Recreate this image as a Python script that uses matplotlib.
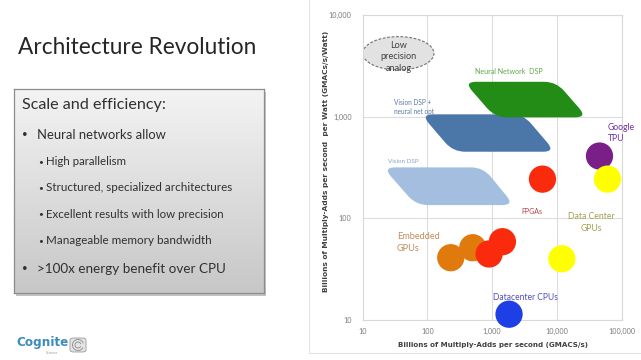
import numpy as np
import matplotlib
matplotlib.use("Agg")
import matplotlib.pyplot as plt
from matplotlib.path import Path
from matplotlib.patches import PathPatch, Ellipse, Rectangle, FancyBboxPatch, Arc

# ---------------- data ----------------
x_ticks = [10, 100, 1000, 10000, 100000]
x_tick_labels = ['10', '100', '1,000', '10,000', '100,000']
y_ticks = [10, 100, 1000, 10000]
y_tick_labels = ['10', '100', '1,000', '10,000']

cpu_x = [1820]; cpu_y = [11.4]
emb_gpu_x = [229, 501]; emb_gpu_y = [41, 51.4]
fpga_x = [895, 1438, 5970]; fpga_y = [44.6, 58.9, 243]
tpu_x = [45400]; tpu_y = [410]
dc_gpu_x = [11900, 60300]; dc_gpu_y = [40, 243]

# region shapes: corners TL, TR, BR, BL
nn_dsp_x = [368, 9720, 29300, 1109]; nn_dsp_y = [2203, 2203, 985, 985]
vis_nn_x = [79.6, 3006, 9380, 249]; vis_nn_y = [1054, 1054, 452, 452]
vis_x = [20.6, 723, 2180, 66.7]; vis_y = [317, 317, 135, 135]

title = "Architecture Revolution"
box_heading = "Scale and efficiency:"
bullets_lvl1 = ["Neural networks allow", ">100x energy benefit over CPU"]
bullets_lvl2 = ["High parallelism", "Structured, specialized architectures",
                "Excellent results with low precision", "Manageable memory bandwidth"]

W, H = 641, 360
plt.rcParams['font.family'] = ['Lato', 'DejaVu Sans']
fig = plt.figure(figsize=(W / 100, H / 100), dpi=100)
fig.patch.set_facecolor('white')
renderer = fig.canvas.get_renderer()
BOLD = ['DejaVu Sans']


def fpos(x, y):
    return x / W, 1 - y / H


def fit(t, target):
    bb = t.get_window_extent(renderer)
    w = max(bb.width, bb.height) if t.get_rotation() else bb.width
    t.set_fontsize(t.get_fontsize() * target / w)


# ---------------- chart panel ----------------
fig.patches.append(Rectangle(fpos(309, 353), (650 - 309) / W, (353 + 5) / H,
                             transform=fig.transFigure, facecolor='white',
                             edgecolor='#e4e4e4', lw=0.8, zorder=-5))

ax = fig.add_axes([362.7 / W, 1 - 320 / H, (621.7 - 362.7) / W, (320 - 15) / H])
ax.set_xscale('log'); ax.set_yscale('log')
ax.set_xlim(10, 100000); ax.set_ylim(10, 10000)
ax.set_xticks(x_ticks); ax.set_xticklabels(x_tick_labels)
ax.set_yticks(y_ticks); ax.set_yticklabels(y_tick_labels)
ax.minorticks_off()
ax.tick_params(length=0, labelsize=5.2, labelcolor='#7a7a7a')
ax.tick_params(axis='y', pad=8)
ax.tick_params(axis='x', pad=6)
for s in ax.spines.values():
    s.set_color('#d9d9d9'); s.set_linewidth(0.8)
ax.grid(True, color='#dcdcdc', lw=0.8)
ax.set_axisbelow(True)


def rounded_shape(xs, ys, r, color):
    pts = ax.transData.transform(np.column_stack([xs, ys]))
    n = len(pts)
    verts, codes = [], []
    for i in range(n):
        p0, p1, p2 = pts[i - 1], pts[i], pts[(i + 1) % n]
        d1 = (p0 - p1) / np.hypot(*(p0 - p1))
        d2 = (p2 - p1) / np.hypot(*(p2 - p1))
        a, b = p1 + d1 * r, p1 + d2 * r
        verts.append(a); codes.append(Path.MOVETO if i == 0 else Path.LINETO)
        verts += [p1, b]; codes += [Path.CURVE3, Path.CURVE3]
    verts.append(verts[0]); codes.append(Path.CLOSEPOLY)
    verts = ax.transAxes.inverted().transform(np.array(verts))
    ax.add_patch(PathPatch(Path(verts, codes), transform=ax.transAxes,
                           facecolor=color, edgecolor='none', zorder=2))


rounded_shape(vis_x, vis_y, 12, '#a3bedf')
rounded_shape(vis_nn_x, vis_nn_y, 12, '#4a76a8')
rounded_shape(nn_dsp_x, nn_dsp_y, 12, '#238c16')

S = 385
kw = dict(s=S, edgecolors='none', zorder=3, clip_on=False)
ax.scatter(cpu_x, cpu_y, c='#1f3fe6', **kw)
ax.scatter(emb_gpu_x, emb_gpu_y, c='#e07a0c', **kw)
ax.scatter(fpga_x, fpga_y, c='#fa2a0c', **kw)
ax.scatter(tpu_x, tpu_y, c='#7a1f88', **kw)
ax.scatter(dc_gpu_x, dc_gpu_y, c='#ffff00', **kw)

# low precision analog ellipse
ax.add_patch(Ellipse((0.1375, 0.8745), 0.2753, 0.1092, transform=ax.transAxes,
                     facecolor='#e2e2e2', edgecolor='#707070', lw=0.8,
                     ls=(0, (2.5, 1.5)), zorder=2))

labels = [
    ("Neural Network  DSP", 1824, 2762, 'center', '#62a84c', 68),
    ("Vision DSP +\nneural net opt", 30.8, 1253, 'left', '#5a7aa2', 40.7),
    ("Vision DSP", 24.3, 360, 'left', '#86a4cc', 30.6),
    ("Google\nTPU", 61200, 693, 'left', '#7030a0', 27.3),
    ("FPGAs", 4170, 118, 'center', '#b8404a', 21),
    ("Data Center\nGPUs", 33800, 91, 'center', '#a0a050', 46.7),
    ("Embedded\nGPUs", 33.5, 57.8, 'left', '#c48a58', 43.3),
    ("Datacenter CPUs", 3250, 16.7, 'center', '#5050c0', 65),
    ("Low\nprecision\nanalog", 35.5, 3880, 'center', '#404040', 36.7),
]
for txt, x, y, ha, col, w in labels:
    t = ax.text(x, y, txt, ha=ha, va='center', color=col, fontsize=6,
                linespacing=1.35, zorder=4, multialignment=ha)
    fit(t, w)

tx = fig.text(*fpos(492.5, 345.5), "Billions of Multiply-Adds per second (GMACS/s)",
              ha='center', va='center', fontsize=6, fontweight='bold', color='#404040',
              family=BOLD)
fit(tx, 192)
ty = fig.text(*fpos(326, 161.5), "Billions of Multiply-Adds per second  per Watt (GMACs/s/Watt)",
              ha='center', va='center', rotation=90, fontsize=6, fontweight='bold',
              color='#404040', family=BOLD)
fit(ty, 263)

# ---------------- left side ----------------
t = fig.text(*fpos(18.3, 47), title, ha='left', va='center', fontsize=16, color='#262626')
fit(t, 238.4)

# box shadow + gradient box
bx0, by0, bx1, by1 = 14, 89, 264, 293
fig.patches.append(Rectangle(fpos(bx0 + 2, by1 + 2.5), (bx1 - bx0) / W, (by1 - by0) / H,
                             transform=fig.transFigure, facecolor='#9a9a9a',
                             edgecolor='none', alpha=0.6, zorder=-4))
axb = fig.add_axes([bx0 / W, 1 - by1 / H, (bx1 - bx0) / W, (by1 - by0) / H])
grad = np.linspace(0, 1, 256)[:, None]
c_top = np.array([0.955, 0.955, 0.955]); c_bot = np.array([0.78, 0.78, 0.78])
img = c_top[None, None, :] * (1 - grad[:, :, None]) + c_bot[None, None, :] * grad[:, :, None]
axb.imshow(img, aspect='auto', extent=[0, 1, 0, 1], origin='upper')
axb.set_xticks([]); axb.set_yticks([])
for s in axb.spines.values():
    s.set_color('#8c8c8c'); s.set_linewidth(0.9)

txtcol = '#303030'
t = fig.text(*fpos(21.7, 105), box_heading, ha='left', va='center', fontsize=11, color=txtcol)
fit(t, 144)

lvl1_y = [135, 269]
lvl1_w = [129, 190]
for s_, y, w in zip(bullets_lvl1, lvl1_y, lvl1_w):
    fig.text(*fpos(22.3, y), "•", ha='left', va='center', fontsize=7, color=txtcol)
    t = fig.text(*fpos(36.7, y), s_, ha='left', va='center', fontsize=9.5, color=txtcol)
    fit(t, w)

lvl2_y = [161.3, 187.3, 214, 240.7]
lvl2_w = [80.3, 183.3, 176.3, 165]
for s_, y, w in zip(bullets_lvl2, lvl2_y, lvl2_w):
    fig.text(*fpos(38, y), "•", ha='left', va='center', fontsize=6, color=txtcol)
    t = fig.text(*fpos(45.7, y), s_, ha='left', va='center', fontsize=7.5, color=txtcol)
    fit(t, w)

# logo
t = fig.text(*fpos(16, 342.5), "Cognite", ha='left', va='center', fontsize=8,
             fontweight='bold', color='#3c8cbe', family=BOLD)
fit(t, 52)
fig.text(*fpos(46, 352.5), "Ventures", ha='left', va='center', fontsize=2.2, color='#9a9a9a')
fig.patches.append(FancyBboxPatch(fpos(70, 352), 16 / W, 14 / H,
                                  boxstyle='round,pad=0,rounding_size=0.006',
                                  transform=fig.transFigure, facecolor='#e4e4e4',
                                  edgecolor='#9a9a9a', lw=0.6))
for rr in [3, 5.5]:
    fig.patches.append(Arc(fpos(78, 345), 2 * rr / W, 2 * rr / H, theta1=30, theta2=320,
                           transform=fig.transFigure, color='#8a8a8a', lw=0.6))

fig.savefig('out.png', dpi=100, facecolor='white')
